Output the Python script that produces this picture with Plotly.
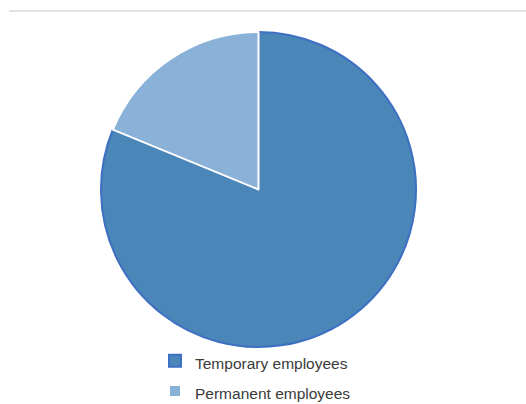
import plotly.graph_objects as go

labels = ["Temporary employees", "Permanent employees"]
values = [81.2, 18.8]
colors = ["#4A86B8", "#8AB2D9"]
line_colors = ["#3E6FC2", "#FFFFFF"]

W, H = 526, 404
cx, cy, r = 258.5, 189.5, 157.5

legend_labels = ["<span style='font-size:15.5px'>%s</span>" % t for t in labels]

fig = go.Figure()
fig.add_trace(go.Pie(
    labels=legend_labels,
    values=values,
    sort=False,
    direction="clockwise",
    rotation=0,
    textinfo="none",
    hoverinfo="label+value",
    marker=dict(colors=colors, line=dict(color=line_colors, width=2)),
    domain=dict(x=[(cx - r) / W, (cx + r) / W], y=[1 - (cy + r) / H, 1 - (cy - r) / H]),
))

fig.add_shape(type="line", xref="paper", yref="paper",
              x0=9 / W, x1=1, y0=1 - 11 / H, y1=1 - 11 / H,
              line=dict(color="#D9D9D9", width=1.5))

fig.update_layout(
    width=W, height=H,
    autosize=False,
    margin=dict(l=0, r=0, t=0, b=0, autoexpand=False),
    paper_bgcolor="white",
    plot_bgcolor="white",
    font=dict(family="Liberation Sans, Arial, sans-serif", color="#404040"),
    legend=dict(
        orientation="v",
        x=155 / W, xanchor="left",
        y=1 - 376 / H, yanchor="middle",
        font=dict(size=21, color="#3A3A3A"),
        bgcolor="rgba(0,0,0,0)",
        itemwidth=30,
    ),
    showlegend=True,
)

fig.write_html("out.html",
               config={"displayModeBar": False, "responsive": False},
               post_script="document.body.style.margin='0';document.body.style.padding='0';document.body.style.overflow='hidden';")
